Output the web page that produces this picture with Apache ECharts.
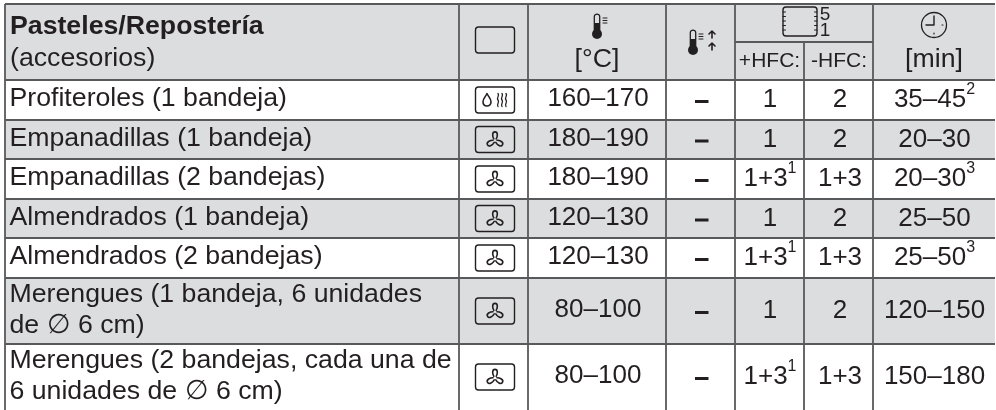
<!DOCTYPE html>
<html>
<head>
<meta charset="utf-8">
<style>
  html, body { margin: 0; padding: 0; background: #fff; }
  #chart { width: 996px; height: 410px; }
</style>
<script src="https://cdn.jsdelivr.net/npm/echarts@6/dist/echarts.min.js"></script>
</head>
<body>
<div id="chart"></div>
<script>
// table content
var dishes = [
  "Profiteroles (1 bandeja)",
  "Empanadillas (1 bandeja)",
  "Empanadillas (2 bandejas)",
  "Almendrados (1 bandeja)",
  "Almendrados (2 bandejas)",
  "Merengues (1 bandeja, 6 unidades\nde ∅ 6 cm)",
  "Merengues (2 bandejas, cada una de\n6 unidades de ∅ 6 cm)"
];
var modes = ["steam", "fan", "fan", "fan", "fan", "fan", "fan"];
var temps = ["160–170", "180–190", "180–190", "120–130", "120–130", "80–100", "80–100"];
var levelPlus = ["1", "1", "1+3", "1", "1+3", "1", "1+3"];
var levelPlusNote = ["", "", "1", "", "1", "", "1"];
var levelMinus = ["2", "2", "1+3", "2", "1+3", "2", "1+3"];
var times = ["35–45", "20–30", "20–30", "25–50", "25–50", "120–150", "150–180"];
var timeNotes = ["2", "", "3", "", "3", "", ""];

// table layout, in axis units
var colEdges = [5, 459, 528, 666, 735, 804, 873, 995];
var rowEdges = [80, 120, 159, 199, 238, 278, 344, 410];
var headTop = 4;
var headSplit = 42;

var INK = "#231f20";
var LINE = "#58595b";
var SHADE = "#dcddde";
var FONT = '"Liberation Sans", Arial, sans-serif';
var TEXT_SIZE = 26.7;
var NUM_SIZE = 26;

function cellText(api, x, y, main, note, size) {
  var p = api.coord([x, y]);
  return {
    type: "text", x: p[0], y: p[1], silent: true,
    style: {
      text: note ? main + "{sup|" + note + "}" : main,
      font: (size || NUM_SIZE) + "px " + FONT,
      fill: INK,
      align: "center",
      verticalAlign: "middle",
      lineHeight: 36,
      rich: { sup: { fontSize: 16, fontFamily: FONT, fill: INK, verticalAlign: "top", lineHeight: 16, height: 16 } }
    }
  };
}

function leftText(api, x, y, text, size, weight) {
  var p = api.coord([x, y]);
  return {
    type: "text", x: p[0], y: p[1],
    style: { text: text, font: (weight || "normal") + " " + (size || TEXT_SIZE) + "px " + FONT, fill: INK, align: "left", verticalAlign: "middle", lineHeight: 31 }
  };
}

function box(api, cx, cy) {
  var p = api.coord([cx - 19.5, cy - 13]);
  return { type: "rect", shape: { x: p[0], y: p[1], width: 39, height: 26, r: 3 }, style: { fill: "none", stroke: INK, lineWidth: 1.4 } };
}

function strokePath(d, width) {
  return { type: "path", shape: { pathData: d }, style: { fill: "none", stroke: INK, lineWidth: width || 1.4, lineCap: "round", lineJoin: "round" } };
}

function fanIcon(api, cx, cy) {
  var p = api.coord([cx, cy]);
  var blade = "M-1.2,-1.6 C-2.6,-4 -3.2,-8.6 0,-8.6 C3.2,-8.6 2.6,-4 1.2,-1.6";
  var kids = [0, 1, 2].map(function (i) {
    var b = strokePath(blade, 1.6);
    b.rotation = -i * Math.PI * 2 / 3;
    return b;
  });
  return { type: "group", x: p[0], y: p[1] + 1, children: kids };
}

function steamIcon(api, cx, cy) {
  var p = api.coord([cx, cy]);
  var wave = "c-2,-2 2,-4 0,-6.5 c-2,-2.5 2,-4 0,-6.5";
  return {
    type: "group", x: p[0], y: p[1],
    children: [
      strokePath("M-8,-6.5 C-9.5,-3 -12,-1.5 -12,1.8 C-12,4.6 -10.2,6 -8,6 C-5.8,6 -4,4.6 -4,1.8 C-4,-1.5 -6.5,-3 -8,-6.5 Z", 1.6),
      strokePath("M3,6.5 " + wave, 1.3),
      strokePath("M7,6.5 " + wave, 1.3),
      strokePath("M11,6.5 " + wave, 1.3)
    ]
  };
}

function thermometer(api, cx, top) {
  var p = api.coord([cx, top]);
  return {
    type: "group", x: p[0], y: p[1],
    children: [
      { type: "circle", shape: { cx: 0, cy: 20, r: 5 }, style: { fill: INK } },
      { type: "path", shape: { pathData: "M-2.7,16 L-2.7,2.5 C-2.7,-0.8 2.7,-0.8 2.7,2.5 L2.7,16 Z" }, style: { fill: "none", stroke: INK, lineWidth: 1.3 } },
      { type: "rect", shape: { x: -2.7, y: 9, width: 5.4, height: 9 }, style: { fill: INK } },
      strokePath("M6,4 h4 M6,6.5 h4 M6,9 h4", 1)
    ]
  };
}

function shelfIcon(api, x, y) {
  var p = api.coord([x, y]);
  return {
    type: "group", x: p[0], y: p[1],
    children: [
      strokePath("M3,0 H31 C33,0 34,1 34,3 V26 C34,28 33,29 31,29 H3 C1,29 0,28 0,26 V3 C0,1 1,0 3,0 Z", 1.4),
      strokePath("M0,5 h2.5 M0,9.5 h2.5 M0,14 h2.5 M0,18.5 h2.5 M0,23 h2.5 M34,5 h-2.5 M34,9.5 h-2.5 M34,14 h-2.5 M34,18.5 h-2.5 M34,23 h-2.5", 1)
    ]
  };
}

function clockIcon(api, cx, cy) {
  var p = api.coord([cx, cy]);
  return {
    type: "group", x: p[0], y: p[1],
    children: [
      { type: "circle", shape: { cx: 0, cy: 0, r: 12.5 }, style: { fill: "none", stroke: INK, lineWidth: 1.3 } },
      strokePath("M0,-9 V0 H-8", 1.4),
      strokePath("M8,0 h1 M0,8 v1", 1.2)
    ]
  };
}

function renderHeader(params, api) {
  var left = api.coord([colEdges[0], headTop]);
  var right = api.coord([colEdges[7], rowEdges[0]]);
  var kids = [
    { type: "rect", shape: { x: left[0], y: left[1], width: right[0] - left[0], height: right[1] - left[1] }, style: { fill: SHADE } },
    leftText(api, 10, 27, "Pasteles/Repostería", TEXT_SIZE, "bold"),
    leftText(api, 10, 59, "(accesorios)", TEXT_SIZE),
    box(api, 495, 40),
    thermometer(api, 597, 14),
    cellText(api, 597, 60, "[°C]", "", TEXT_SIZE),
    thermometer(api, 693, 30),
    cellText(api, 769.5, 61, "+HFC:", "", 21),
    cellText(api, 839, 61, "-HFC:", "", 21),
    shelfIcon(api, 783, 7),
    cellText(api, 825, 15, "5", "", 19),
    cellText(api, 825, 31, "1", "", 19),
    clockIcon(api, 934, 25),
    cellText(api, 934, 60, "[min]", "", TEXT_SIZE)
  ];
  // arrows next to the second thermometer
  var a = api.coord([712, 30]);
  kids.push({
    type: "group", x: a[0], y: a[1],
    children: [
      strokePath("M0,8 V1 M-3,4 L0,1 L3,4", 1.6),
      strokePath("M0,20 V13 M-3,16 L0,13 L3,16", 1.6)
    ]
  });
  return { type: "group", children: kids };
}

function renderRow(params, api) {
  var i = api.value(0);
  var top = rowEdges[i];
  var bottom = rowEdges[i + 1];
  var cy = (top + bottom) / 2;
  var a = api.coord([colEdges[0], top]);
  var b = api.coord([colEdges[7], bottom]);
  var kids = [];
  if (i % 2 === 1) {
    kids.push({ type: "rect", shape: { x: a[0], y: a[1], width: b[0] - a[0], height: b[1] - a[1] }, style: { fill: SHADE } });
  }
  kids.push(leftText(api, 9.5, cy - 1, dishes[i]));
  kids.push(box(api, 495, cy));
  kids.push(modes[i] === "fan" ? fanIcon(api, 495, cy) : steamIcon(api, 495, cy));
  kids.push(cellText(api, 598, cy - 1, temps[i]));
  kids.push({
    type: "rect",
    shape: { x: api.coord([695, 0])[0], y: api.coord([0, cy])[1], width: 13.5, height: 3 },
    style: { fill: INK }
  });
  kids.push(cellText(api, 770, cy, levelPlus[i], levelPlusNote[i]));
  kids.push(cellText(api, 840, cy, levelMinus[i]));
  kids.push(cellText(api, 934.5, cy, times[i], timeNotes[i]));
  return { type: "group", children: kids };
}

function renderGrid(params, api) {
  var kids = [];
  function line(x1, y1, x2, y2) {
    var p = api.coord([x1, y1]);
    var q = api.coord([x2, y2]);
    kids.push({ type: "line", shape: { x1: p[0], y1: p[1], x2: q[0], y2: q[1] }, style: { stroke: LINE, lineWidth: 1.8 } });
  }
  var bottom = rowEdges[rowEdges.length - 1];
  // no border on the right side of the table
  colEdges.slice(0, 7).forEach(function (x, i) {
    // the shelf column head spans two columns until the split line
    line(x, i === 5 ? headSplit : headTop, x, bottom);
  });
  line(colEdges[0], headTop, colEdges[7], headTop);
  line(colEdges[4], headSplit, colEdges[6], headSplit);
  rowEdges.forEach(function (y) {
    if (y < bottom) line(colEdges[0], y, colEdges[7], y);
  });
  return { type: "group", children: kids };
}

var chart = echarts.init(document.getElementById("chart"));
chart.setOption({
  animation: false,
  backgroundColor: "#fff",
  grid: { left: 0, right: 0, top: 0, bottom: 0 },
  xAxis: { type: "value", min: 0, max: 996, show: false },
  yAxis: { type: "value", min: 0, max: 410, inverse: true, show: false },
  series: [
    { type: "custom", silent: true, clip: false, renderItem: renderHeader, data: [[0]], z: 2 },
    { type: "custom", silent: true, clip: false, renderItem: renderRow, encode: { x: 0 }, data: dishes.map(function (d, i) { return [i]; }), z: 2 },
    { type: "custom", silent: true, clip: false, renderItem: renderGrid, data: [[0]], z: 3 }
  ]
});
</script>
</body>
</html>
